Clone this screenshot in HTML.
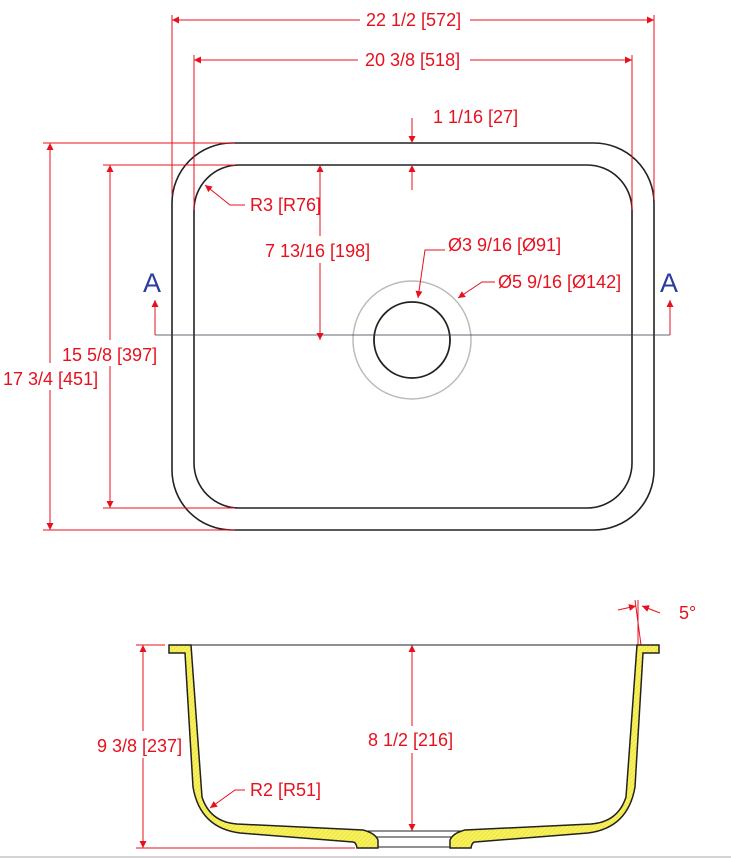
<!DOCTYPE html>
<html><head><style>body{margin:0;background:#fff}svg{display:block}text{font-family:"Liberation Sans",sans-serif;font-size:18px;fill:#e8101e}</style></head>
<body>
<svg width="731" height="858" viewBox="0 0 731 858" xmlns="http://www.w3.org/2000/svg">
<defs>
<marker id="a" viewBox="0 0 10 10" refX="10" refY="5" markerWidth="16" markerHeight="7" markerUnits="userSpaceOnUse" orient="auto-start-reverse"><path d="M0,0 L10,5 L0,10 z" fill="#e8101e"/></marker>
<pattern id="h" width="3" height="3" patternUnits="userSpaceOnUse" patternTransform="rotate(45)"><rect width="3" height="3" fill="#f8f25a"/><line x1="0" y1="0" x2="0" y2="3" stroke="#e0cc30" stroke-width="0.8"/></pattern>
</defs>
<g fill="none" stroke="#222" stroke-width="1.6">
<rect x="172" y="143" width="482" height="387" rx="60"/>
<rect x="194" y="165" width="438" height="343" rx="45"/>
</g>
<circle cx="412" cy="340" r="59" fill="none" stroke="#bbb" stroke-width="1.5"/>
<circle cx="412" cy="340" r="38" fill="none" stroke="#222" stroke-width="1.8"/>
<line x1="155" y1="335" x2="670" y2="335" stroke="#334" stroke-width="0.8"/>
<text x="143" y="292" style="font-size:27px;fill:#2a3c9c">A</text>
<text x="660" y="292" style="font-size:27px;fill:#2a3c9c">A</text>
<g stroke="#e8101e" stroke-width="1" fill="none">
<line x1="172" y1="15" x2="172" y2="195"/><line x1="654" y1="15" x2="654" y2="200"/>
<line x1="172" y1="20" x2="360" y2="20" marker-start="url(#a)"/><line x1="470" y1="20" x2="654" y2="20" marker-end="url(#a)"/>
<line x1="194" y1="55" x2="194" y2="210"/><line x1="632" y1="55" x2="632" y2="210"/>
<line x1="194" y1="60" x2="358" y2="60" marker-start="url(#a)"/><line x1="470" y1="60" x2="632" y2="60" marker-end="url(#a)"/>
<line x1="43" y1="143" x2="235" y2="143"/><line x1="43" y1="530" x2="235" y2="530"/>
<line x1="50" y1="143" x2="50" y2="363" marker-start="url(#a)"/><line x1="50" y1="390" x2="50" y2="530" marker-end="url(#a)"/>
<line x1="103" y1="165" x2="235" y2="165"/><line x1="103" y1="508" x2="235" y2="508"/>
<line x1="110" y1="165" x2="110" y2="340" marker-start="url(#a)"/><line x1="110" y1="366" x2="110" y2="508" marker-end="url(#a)"/>
<line x1="320" y1="165" x2="320" y2="236" marker-start="url(#a)"/><line x1="320" y1="263" x2="320" y2="340" marker-end="url(#a)"/>
<line x1="412" y1="118" x2="412" y2="143" marker-end="url(#a)"/><line x1="412" y1="190" x2="412" y2="165" marker-end="url(#a)"/>
<line x1="155" y1="335" x2="155" y2="300" marker-end="url(#a)"/><line x1="670" y1="335" x2="670" y2="300" marker-end="url(#a)"/>
<polyline points="245,205 230,205 205,185" marker-end="url(#a)"/>
<polyline points="445,250 425,250 418,298" marker-end="url(#a)"/>
<polyline points="495,282 482,282 458,298" marker-end="url(#a)"/>
<line x1="143" y1="645" x2="143" y2="731" marker-start="url(#a)"/><line x1="143" y1="758" x2="143" y2="848" marker-end="url(#a)"/>
<line x1="136" y1="645" x2="165" y2="645"/><line x1="136" y1="848" x2="355" y2="848"/>
<line x1="412" y1="645" x2="412" y2="726" marker-start="url(#a)"/><line x1="412" y1="753" x2="412" y2="831" marker-end="url(#a)"/>
<polyline points="245,790 235,790 210,808" marker-end="url(#a)"/>
<line x1="638" y1="600" x2="638" y2="645"/><line x1="635" y1="600" x2="641" y2="645"/>
<line x1="618" y1="610" x2="636" y2="606" marker-end="url(#a)"/><line x1="660" y1="613" x2="642" y2="606" marker-end="url(#a)"/>
</g>
<text x="366" y="26">22 1/2 [572]</text>
<text x="365" y="66">20 3/8 [518]</text>
<text x="433" y="123">1 1/16 [27]</text>
<text x="250" y="211">R3 [R76]</text>
<text x="265" y="257">7 13/16 [198]</text>
<text x="448" y="251">Ø3 9/16 [Ø91]</text>
<text x="498" y="288">Ø5 9/16 [Ø142]</text>
<text x="62" y="361">15 5/8 [397]</text>
<text x="3" y="385">17 3/4 [451]</text>
<text x="97" y="752">9 3/8 [237]</text>
<text x="368" y="746">8 1/2 [216]</text>
<text x="250" y="796">R2 [R51]</text>
<text x="679" y="619">5°</text>
<g stroke="#222" stroke-width="1">
<line x1="190" y1="645" x2="638" y2="645"/>
<line x1="360" y1="831" x2="468" y2="831"/>
<line x1="370" y1="837" x2="458" y2="837"/>
<line x1="378" y1="847" x2="450" y2="847"/>
</g>
<g fill="url(#h)" stroke="#222" stroke-width="1.5">
<path d="M169,645 L191,645 L202,797 Q210,822 237,824 L363,830 Q375,833 378,840 L378,848 L357,848 Q356,842 353,842 L240,833 Q200,828 193,787 L185,653 L169,653 Z"/>
<path d="M659,645 L637,645 L626,797 Q618,822 591,824 L465,830 Q453,833 450,840 L450,848 L471,848 Q472,842 475,842 L588,833 Q628,828 635,787 L643,653 L659,653 Z"/>
</g>
<line x1="0" y1="857" x2="731" y2="857" stroke="#aaa" stroke-width="1"/>
</svg>
</body></html>
